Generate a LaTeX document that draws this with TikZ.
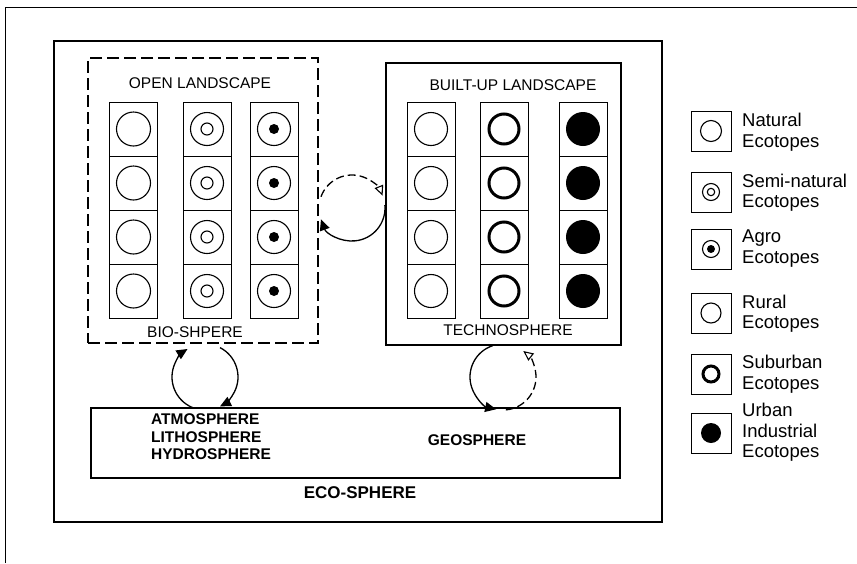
\documentclass[tikz,border=0pt]{standalone}
\usepackage{fontspec}
\setmainfont{Liberation Sans}
\usetikzlibrary{arrows.meta}
\tikzset{
  frameline/.style={line width=1pt},
  bigbox/.style={draw, line width=1.5pt, inner sep=0pt},
  dashbox/.style={draw, line width=1.3pt, dash pattern=on 12pt off 5pt, inner sep=0pt},
  cellbox/.style={draw, line width=1pt, minimum width=48pt, minimum height=54pt, inner sep=0pt},
  legbox/.style={draw, line width=1pt, minimum width=40pt, minimum height=40pt, inner sep=0pt},
  ring/.style={line width=1.1pt},
  thickring/.style={line width=3pt},
  lbl/.style={font=\fontsize{15.5}{17.5}\selectfont, inner sep=0pt},
  geotxt/.style={font=\bfseries\fontsize{15.5}{17.5}\selectfont, inner sep=0pt, align=left},
  legtxt/.style={font=\fontsize{18.5}{20.5}\selectfont, inner sep=0pt, align=left, anchor=west},
  cyc/.style={line width=1.3pt},
  solidtip/.style={-{Triangle[length=11pt,width=10pt]}},
  opentip/.style={-{Triangle[open,length=10pt,width=9pt,line width=1.1pt]}},
  cycdash/.style={dash pattern=on 8pt off 4pt},
}
\begin{document}
\begin{tikzpicture}[x=1pt,y=-1pt]
\useasboundingbox (0,0) rectangle (857,563);
\fill[white] (0,0) rectangle (857,563);

% outer frame (top and left only)
\coordinate (fbl) at (5,563);
\coordinate (ftl) at (5,7);
\coordinate (ftr) at (857,7);
\draw[frameline] (fbl) -- (ftl) -- (ftr);

% eco-sphere box
\node[bigbox, minimum width=608pt, minimum height=481pt] (eco) at (358,281.5) {};
\node[font=\bfseries\fontsize{17}{19}\selectfont, inner sep=0pt] (ecolbl) at (360,493) {ECO-SPHERE};

% open landscape (dashed)
\node[dashbox, minimum width=230pt, minimum height=285pt] (open) at (203,200.5) {};
\node[lbl] (openlbl) at (200,83) {OPEN LANDSCAPE};
\node[lbl] (biolbl) at (195,332) {BIO-SHPERE};

% built-up landscape
\node[bigbox, line width=1.3pt, minimum width=235pt, minimum height=282pt] (built) at (503.5,204) {};
\node[lbl] (builtlbl) at (513,85) {BUILT-UP LANDSCAPE};
\node[lbl] (techlbl) at (508,330) {TECHNOSPHERE};

% cells
\foreach \r in {0,1,2,3}{
  % open landscape
  \node[cellbox] (oa\r) at (133.5,{129+54*\r}) {};
  \draw[ring] (oa\r.center) circle[radius=17pt];
  \node[cellbox] (ob\r) at (207,{129+54*\r}) {};
  \draw[ring] (ob\r.center) circle[radius=16.5pt];
  \draw[ring] (ob\r.center) circle[radius=6pt];
  \node[cellbox] (oc\r) at (274,{129+54*\r}) {};
  \draw[ring] (oc\r.center) circle[radius=16.5pt];
  \fill (oc\r.center) circle[radius=5pt];
  % built-up landscape
  \node[cellbox] (ba\r) at (431,{129+54*\r}) {};
  \draw[ring] (ba\r.center) circle[radius=16.5pt];
  \node[cellbox] (bb\r) at (504,{129+54*\r}) {};
  \draw[thickring] (bb\r.center) circle[radius=15pt];
  \node[cellbox] (bc\r) at (583,{129+54*\r}) {};
  \fill (bc\r.center) circle[radius=17pt];
}

% geosphere box
\node[bigbox, line width=1.3pt, minimum width=529pt, minimum height=70pt] (geo) at (355.5,443) {};
\node[geotxt, anchor=west] (geolist) at (151,437) {ATMOSPHERE\\LITHOSPHERE\\HYDROSPHERE};
\node[font=\bfseries\fontsize{15.5}{17.5}\selectfont, inner sep=0pt] (geolbl) at (477,440) {GEOSPHERE};

% cycle between bio-sphere and techno-sphere
\coordinate (cm) at (352,208);
\draw[cyc, solidtip] (cm) ++(5:33pt) arc[start angle=5, end angle=-160, radius=33pt];
\draw[cyc, cycdash, opentip] (cm) ++(160:33pt) arc[start angle=160, end angle=22, radius=33pt];

% cycle between bio-sphere and geosphere
\coordinate (cl) at (205,377);
\draw[cyc, solidtip] (cl) ++(252:33pt) arc[start angle=252, end angle=122, radius=33pt];
\draw[cyc, solidtip] (cl) ++(63:33pt) arc[start angle=63, end angle=-63, radius=33pt];

% cycle between techno-sphere and geosphere
\coordinate (cr) at (503,377);
\draw[cyc, solidtip] (cr) ++(108:33pt) arc[start angle=108, end angle=258, radius=33pt];
\draw[cyc, cycdash, opentip] (cr) ++(-85:33pt) arc[start angle=-85, end angle=52, radius=33pt];

% legend
\node[legbox] (lg1) at (711,131) {};
\draw[ring] (lg1.center) circle[radius=10.5pt];
\node[legtxt] (lt1) at (742,132) {Natural\\Ecotopes};

\node[legbox] (lg2) at (711,192) {};
\draw[ring] (lg2.center) circle[radius=8.5pt];
\draw[ring] (lg2.center) circle[radius=3.7pt];
\node[legtxt] (lt2) at (742,192.5) {Semi-natural\\Ecotopes};

\node[legbox] (lg3) at (711,249) {};
\draw[ring] (lg3.center) circle[radius=8.5pt];
\fill (lg3.center) circle[radius=4pt];
\node[legtxt] (lt3) at (742,248.5) {Agro\\Ecotopes};

\node[legbox] (lg4) at (711,313) {};
\draw[ring] (lg4.center) circle[radius=10pt];
\node[legtxt] (lt4) at (742,313.5) {Rural\\Ecotopes};

\node[legbox] (lg5) at (711,374) {};
\draw[thickring] (lg5.center) circle[radius=8pt];
\node[legtxt] (lt5) at (742,374) {Suburban\\Ecotopes};

\node[legbox] (lg6) at (711,433) {};
\fill (lg6.center) circle[radius=10pt];
\node[legtxt] (lt6) at (742,432.5) {Urban\\Industrial\\Ecotopes};
\end{tikzpicture}
\end{document}
